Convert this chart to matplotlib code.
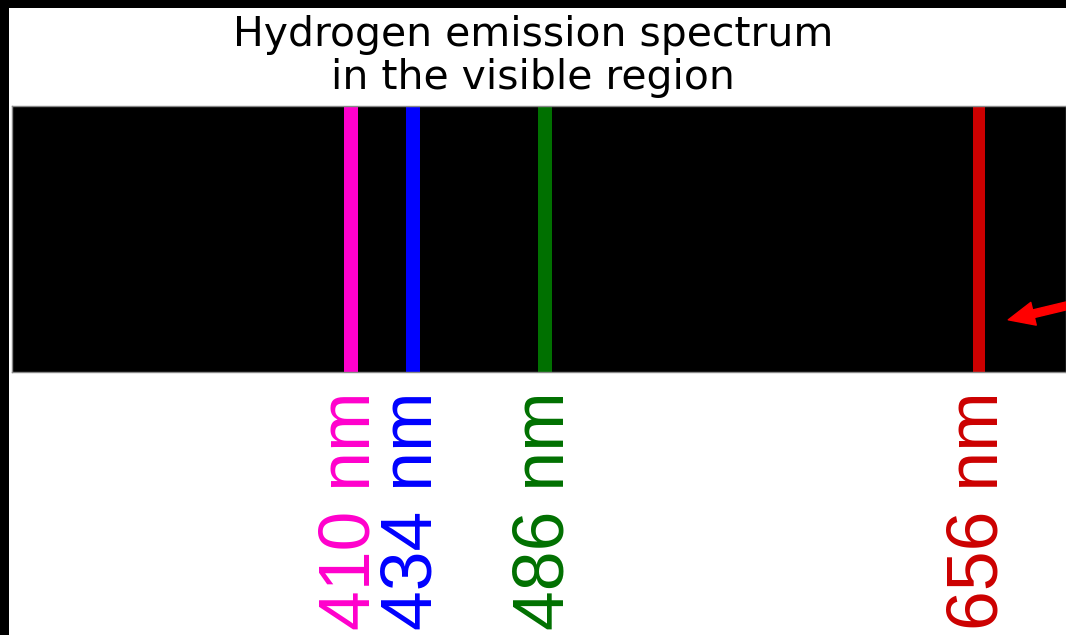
import matplotlib
matplotlib.use("Agg")
import matplotlib.pyplot as plt
from matplotlib.patches import Rectangle
from matplotlib.transforms import blended_transform_factory

# Data
wavelengths = [410, 434, 486, 656]
labels = ["410 nm", "434 nm", "486 nm", "656 nm"]
line_colors = ["#FF00CC", "#0000FF", "#007000", "#CC0000"]
line_widths_px = [14, 14, 14, 12]
title = "Hydrogen emission spectrum\nin the visible region"

W, H = 1066, 635
fig = plt.figure(figsize=(W / 100, H / 100), dpi=100, facecolor="black")

# white panel inside black frame
fig.patches.append(Rectangle((9 / W, 0), 1, 1 - 8 / H, transform=fig.transFigure,
                             facecolor="white", edgecolor="none", zorder=-10))

# spectrum band
ax = fig.add_axes([12 / W, 1 - 372 / H, (W - 12) / W, 266 / H])
ax.set_zorder(2)
ax.set_facecolor("black")
ax.set_xlim(277, 690)
ax.set_ylim(0, 1)
ax.set_xticks([])
ax.set_yticks([])
for s in ax.spines.values():
    s.set_color("#888888")
    s.set_linewidth(1)

for wl, c, lw in zip(wavelengths, line_colors, line_widths_px):
    ax.axvline(wl, color=c, lw=lw * 0.72)

trans = blended_transform_factory(ax.transData, fig.transFigure)
for wl, lab, c in zip(wavelengths, labels, line_colors):
    fig.text(wl, 1 - 391 / H, lab, transform=trans, rotation=90,
             ha="center", va="top", color=c, fontsize=51.5,
             family=["Liberation Sans"])

fig.text(0.5, 1 - 15 / H, title, ha="center", va="top", fontsize=29.4,
         family="DejaVu Sans", color="black", linespacing=1.1)

# red arrow pointing at the 656 nm line
ax.annotate("", xy=(wavelengths[3], 0.17), xycoords=("data", "axes fraction"),
            xytext=(75, 18), textcoords="offset points",
            arrowprops=dict(arrowstyle="simple,head_length=1.0,head_width=0.9,tail_width=0.3",
                            mutation_scale=18.7, color="#FF0000",
                            shrinkA=0, shrinkB=21.5),
            annotation_clip=False)

fig.savefig("out.png", dpi=100, facecolor=fig.get_facecolor())
